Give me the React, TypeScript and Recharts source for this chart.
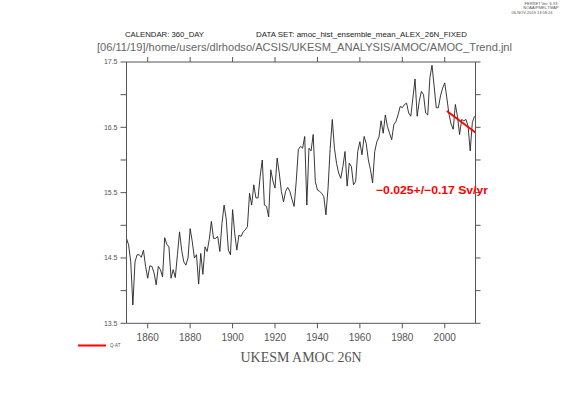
import React from 'react';
import { LineChart, Line, XAxis, YAxis } from 'recharts';

const START_YEAR = 1850;
const amoc: number[] = [
  14.80, 14.70, 14.44, 13.78, 14.44, 14.55, 14.55, 14.51, 14.62, 14.37,
  14.19, 14.38, 14.37, 14.27, 14.09, 14.37, 14.32, 14.21, 14.81, 14.71,
  14.67, 14.19, 14.32, 14.20, 14.55, 14.90, 14.62, 14.44, 14.39, 14.50,
  14.95, 14.75, 14.50, 14.55, 14.10, 14.57, 14.25, 14.67, 14.60, 14.78,
  15.06, 14.80, 14.80, 14.83, 14.60, 15.03, 15.31, 15.10, 14.62, 14.55,
  15.24, 14.88, 14.62, 14.85, 14.83, 14.90, 14.93, 14.98, 15.49, 15.31,
  15.62, 15.42, 15.42, 15.75, 16.00, 15.31, 15.29, 15.13, 15.85, 15.68,
  15.57, 16.03, 15.80, 15.52, 15.36, 15.52, 15.58, 15.52, 15.40, 15.29,
  15.67, 16.16, 16.21, 16.18, 16.36, 15.31, 16.18, 16.14, 16.39, 15.67,
  15.54, 15.52, 15.49, 15.44, 15.16, 15.57, 16.18, 16.62, 16.18, 15.95,
  15.80, 15.72, 15.90, 16.13, 15.60, 15.95, 15.90, 15.62, 15.67, 16.13,
  16.28, 16.08, 16.36, 16.25, 16.00, 15.85, 15.65, 16.13, 16.28, 16.35,
  16.60, 16.41, 16.69, 16.51, 16.41, 16.31, 16.54, 16.59, 16.69, 16.82,
  16.80, 16.85, 16.87, 16.72, 16.67, 16.95, 17.24, 16.67, 16.90, 17.05,
  17.00, 16.72, 16.69, 17.26, 17.45, 17.13, 16.80, 16.80, 16.98, 17.10,
  17.18, 16.95, 16.70, 16.55, 16.47, 16.85, 16.67, 16.39, 16.62, 16.60,
  16.62, 16.52, 16.14, 16.57, 16.67,
];

const trendYears: number[] = [2001, 2014.5];
const trendValues: number[] = [16.75, 16.42];

const xTicks: number[] = [1860, 1880, 1900, 1920, 1940, 1960, 1980, 2000];
const yTicks: number[] = [13.5, 14, 14.5, 15, 15.5, 16, 16.5, 17, 17.5];
const yTickLabels: string[] = ['13.5', '14.5', '15.5', '16.5', '17.5'];

const data: { year: number; amoc?: number; trend?: number }[] = amoc.map((v, i) => ({
  year: START_YEAR + i,
  amoc: v,
}));
trendYears.forEach((y, i) => {
  const row = data.find((r) => r.year === y);
  if (row) row.trend = trendValues[i];
  else data.push({ year: y, trend: trendValues[i] });
});

const AXIS = '#555';
const SANS = 'Liberation Sans, Arial, Helvetica, sans-serif';

const fmtY = (v: number) => {
  const s = v.toFixed(1);
  return yTickLabels.includes(s) ? s : '';
};

export default function App() {
  return (
    <div style={{ position: 'relative', width: 561, height: 397, background: '#fff' }}>
      <style>{`body{margin:0;}`}</style>
      <LineChart
        width={561}
        height={397}
        data={data}
        margin={{ top: 52, right: 65.5, bottom: 43.7, left: 86.5 }}
      >
        <XAxis
          xAxisId="bottom"
          type="number"
          dataKey="year"
          domain={[1850, 2014.5]}
          ticks={xTicks}
          allowDataOverflow
          height={30}
          tickSize={5}
          tickMargin={6}
          stroke={AXIS}
          tick={{ fill: '#555', fontSize: 10, fontFamily: SANS }}
        />
        <XAxis
          xAxisId="top"
          orientation="top"
          type="number"
          dataKey="year"
          domain={[1850, 2014.5]}
          ticks={xTicks}
          allowDataOverflow
          height={10}
          tickSize={5}
          stroke={AXIS}
          tickFormatter={() => ''}
        />
        <YAxis
          yAxisId="left"
          type="number"
          domain={[13.5, 17.5]}
          ticks={yTicks}
          allowDataOverflow
          width={40}
          tickSize={6}
          tickMargin={3}
          stroke={AXIS}
          tickFormatter={fmtY}
          tick={{ fill: '#555', fontSize: 7, fontFamily: SANS }}
        />
        <YAxis
          yAxisId="right"
          orientation="right"
          type="number"
          domain={[13.5, 17.5]}
          ticks={yTicks}
          allowDataOverflow
          width={20}
          tickSize={5}
          stroke={AXIS}
          tickFormatter={() => ''}
        />
        <Line
          xAxisId="bottom"
          yAxisId="left"
          type="linear"
          dataKey="amoc"
          stroke="#222"
          strokeWidth={0.9}
          dot={false}
          activeDot={false}
          isAnimationActive={false}
        />
        <Line
          xAxisId="top"
          yAxisId="right"
          type="linear"
          dataKey="trend"
          stroke="#ff0000"
          strokeWidth={2}
          dot={false}
          activeDot={false}
          connectNulls
          isAnimationActive={false}
        />
      </LineChart>
      <svg
        width={561}
        height={397}
        style={{ position: 'absolute', left: 0, top: 0, pointerEvents: 'none' }}
      >
        <text x={541} y={5} fontSize={4} fill="#555" fontFamily={SANS} textAnchor="middle">
          FERRET Ver. 6.93
        </text>
        <text x={541} y={9} fontSize={4} fill="#555" fontFamily={SANS} textAnchor="middle">
          NOAA/PMEL TMAP
        </text>
        <text x={532} y={14} fontSize={4} fill="#555" fontFamily={SANS} textAnchor="middle">
          06-NOV-2019 13:58:24
        </text>
        <text x={125} y={37} fontSize={7.5} fill="#222" fontFamily={SANS} textLength={79} lengthAdjust="spacingAndGlyphs">
          CALENDAR: 360_DAY
        </text>
        <text x={256} y={37} fontSize={7.5} fill="#222" fontFamily={SANS} textLength={211} lengthAdjust="spacingAndGlyphs">
          DATA SET: amoc_hist_ensemble_mean_ALEX_26N_FIXED
        </text>
        <text x={97} y={51} fontSize={11.5} fill="#666" fontFamily={SANS} textLength={415} lengthAdjust="spacingAndGlyphs">
          [06/11/19]/home/users/dlrhodso/ACSIS/UKESM_ANALYSIS/AMOC/AMOC_Trend.jnl
        </text>
        <text x={376} y={194} fontSize={11} fontWeight="bold" fill="#ff0000" fontFamily={SANS} textLength={112} lengthAdjust="spacingAndGlyphs">
          −0.025+/−0.17 Sv/yr
        </text>
        <line x1={78} y1={345.5} x2={106} y2={345.5} stroke="#ff0000" strokeWidth={2} />
        <text x={110} y={347} fontSize={4.5} fill="#555" fontFamily={SANS}>
          Q-AT
        </text>
        <text x={301} y={362} fontSize={13.6} fill="#555" fontFamily="Liberation Serif, Times New Roman, serif" textAnchor="middle" textLength={121} lengthAdjust="spacingAndGlyphs">
          UKESM AMOC 26N
        </text>
      </svg>
    </div>
  );
}
